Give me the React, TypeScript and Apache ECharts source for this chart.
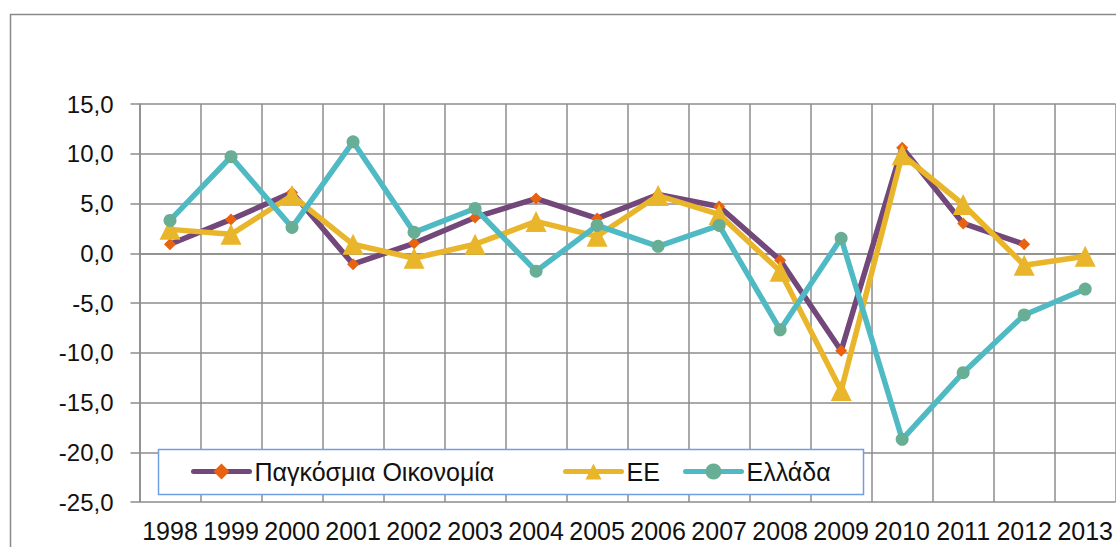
import React, { useEffect, useRef } from "react";
import * as echarts from "echarts";

const years = ["1998","1999","2000","2001","2002","2003","2004","2005","2006","2007","2008","2009","2010","2011","2012","2013"];
const world = [0.9, 3.4, 6.1, -1.1, 1.0, 3.6, 5.5, 3.5, 5.9, 4.7, -0.7, -9.8, 10.6, 3.0, 0.9, null];
const eu = [2.4, 1.9, 5.8, 0.9, -0.5, 0.9, 3.2, 1.7, 5.8, 3.9, -1.8, -13.8, 9.9, 4.9, -1.2, -0.3];
const greece = [3.3, 9.7, 2.6, 11.2, 2.1, 4.5, -1.8, 2.8, 0.7, 2.8, -7.7, 1.5, -18.7, -12.0, -6.2, -3.6];
const names = ["Παγκόσμια Οικονομία", "ΕΕ", "Ελλάδα"];

const FONT = "Liberation Sans";
const GRID = "#8c8c8c";

export default function App() {
  const ref = useRef<HTMLDivElement>(null);
  useEffect(() => {
    const chart = echarts.init(ref.current!, null, { renderer: "svg" });
    const legendCommon = {
      top: 459,
      padding: 0,
      itemWidth: 56,
      itemHeight: 20,
      lineStyle: { width: 5, cap: "round" },
      textStyle: { fontFamily: FONT, fontSize: 25, lineHeight: 25, color: "#111" },
    };
    chart.setOption({
      animation: false,
      backgroundColor: "#ffffff",
      textStyle: { fontFamily: FONT },
      graphic: [
        {
          type: "rect",
          shape: { x: 10.5, y: 14.5, width: 1200, height: 600 },
          style: { fill: "none", stroke: "#8a8a8a", lineWidth: 1.5 },
          silent: true,
          z: 0,
        },
        {
          type: "rect",
          shape: { x: 158.5, y: 449.5, width: 705, height: 45 },
          style: { fill: "#ffffff", stroke: "#6f9fe0", lineWidth: 1.5 },
          silent: true,
          z: 10,
        },
      ],
      grid: { left: 139.5, top: 104, width: 977, height: 398 },
      legend: [
        { ...legendCommon, left: 191, data: [names[0]], z: 20 },
        { ...legendCommon, left: 563, data: [names[1]], z: 20 },
        { ...legendCommon, left: 683, data: [names[2]], z: 20 },
      ],
      xAxis: {
        type: "category",
        data: years,
        boundaryGap: true,
        axisLine: { show: true, lineStyle: { color: GRID, width: 1.5 } },
        axisTick: { show: false },
        splitLine: { show: true, interval: 0, lineStyle: { color: GRID, width: 1.5 } },
        axisLabel: { interval: 0, fontSize: 25, color: "#111", margin: 16, fontFamily: FONT },
      },
      yAxis: {
        type: "value",
        min: -25,
        max: 15,
        interval: 5,
        axisLine: { show: true, lineStyle: { color: GRID, width: 1.5 } },
        axisTick: { show: true, length: 9, lineStyle: { color: GRID, width: 1.5 } },
        splitLine: { show: true, lineStyle: { color: GRID, width: 1.5 } },
        axisLabel: {
          fontSize: 24,
          color: "#111",
          margin: 26,
          fontFamily: FONT,
          formatter: (v: number) => v.toFixed(1).replace(".", ","),
        },
      },
      series: [
        {
          name: names[0],
          type: "line",
          data: world,
          symbol: "diamond",
          symbolSize: 12,
          lineStyle: { color: "#72477a", width: 5.5 },
          itemStyle: { color: "#e8620f" },
          z: 3,
        },
        {
          name: names[1],
          type: "line",
          data: eu,
          symbol: "triangle",
          symbolSize: 21,
          lineStyle: { color: "#e9b52a", width: 5.5 },
          itemStyle: { color: "#e9b52a" },
          z: 4,
        },
        {
          name: names[2],
          type: "line",
          data: greece,
          symbol: "circle",
          symbolSize: 13,
          lineStyle: { color: "#50bac4", width: 5.5 },
          itemStyle: { color: "#68ae95" },
          z: 5,
        },
      ],
    });
    return () => chart.dispose();
  }, []);
  return (
    <div
      ref={ref}
      style={{ position: "absolute", left: 0, top: 0, width: 1116, height: 547, overflow: "hidden" }}
    />
  );
}
